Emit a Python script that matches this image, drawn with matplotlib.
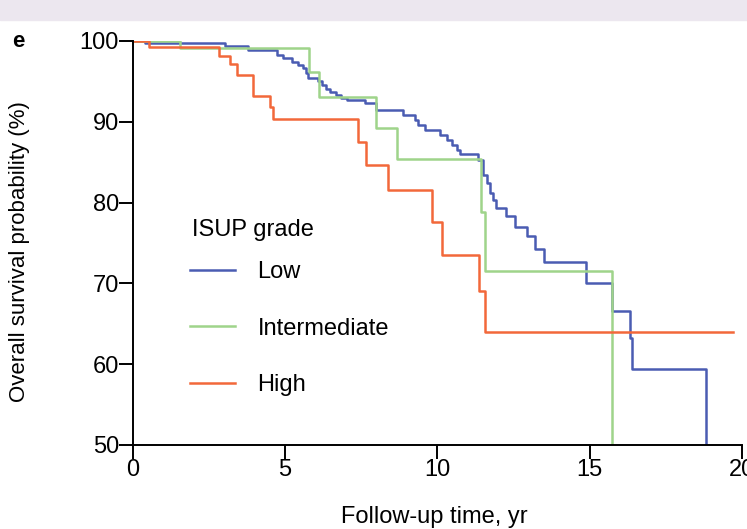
import numpy as np
import matplotlib
matplotlib.use("Agg")
import matplotlib.pyplot as plt
from matplotlib.patches import Rectangle

plt.rcParams['font.family'] = ['Liberation Sans', 'DejaVu Sans']

# Kaplan-Meier steps: (time in years, survival % after the step)
low_t = [0, 0.4, 3.02, 3.79, 4.72, 4.94, 5.21, 5.43, 5.59, 5.70, 5.76, 6.09, 6.20, 6.34,
         6.47, 6.67, 6.85, 7.02, 7.62, 8.0, 8.88, 9.26, 9.37, 9.59, 10.08, 10.3, 10.47,
         10.63, 10.75, 11.34, 11.5, 11.62, 11.72, 11.83, 11.94, 12.27, 12.54, 12.93, 13.2,
         13.5, 14.88, 15.75, 16.32, 16.4, 18.84]
low_s = [100, 99.7, 99.4, 98.9, 98.3, 97.9, 97.4, 97.0, 96.6, 96.0, 95.4, 95.0, 94.6, 94.1,
         93.7, 93.3, 92.9, 92.7, 92.3, 91.5, 90.8, 90.2, 89.6, 89.0, 88.4, 87.7, 87.1,
         86.5, 86.0, 85.3, 83.4, 82.4, 81.2, 80.3, 79.3, 78.3, 77.0, 75.8, 74.3,
         72.7, 70.0, 66.6, 63.2, 59.4, 0]

mid_t = [0, 1.54, 5.79, 6.11, 8.0, 8.66, 11.42, 11.56, 15.75]
mid_s = [100, 99.1, 96.2, 93.1, 89.2, 85.4, 78.8, 71.5, 0]

high_t = [0, 0.53, 2.82, 3.19, 3.41, 3.93, 4.50, 4.61, 7.40, 7.65, 8.38, 9.81, 10.16,
          11.37, 11.58, 19.70]
high_s = [100, 99.2, 98.1, 97.1, 95.8, 93.2, 91.8, 90.4, 87.5, 84.7, 81.6, 77.6, 73.5,
          69.0, 64.0, 64.0]

groups = ["Low", "Intermediate", "High"]
colors = ["#4a5cb2", "#9fd48a", "#f2683a"]

fig = plt.figure(figsize=(7.47, 5.29), dpi=100)
fig.patches.append(Rectangle((0, 0.962), 1, 0.038, transform=fig.transFigure,
                             color="#ece7ef", zorder=0))
ax = fig.add_axes([0.178, 0.159, 0.815, 0.7635])

for t, s, name, c in zip([low_t, mid_t, high_t], [low_s, mid_s, high_s], groups, colors):
    ax.step(t, s, where="post", color=c, lw=1.8, label=name)

ax.set_xlim(0, 20)
ax.set_ylim(50, 100)
ax.set_xticks([0, 5, 10, 15, 20])
ax.set_yticks([50, 60, 70, 80, 90, 100])
ax.spines['top'].set_visible(False)
ax.spines['right'].set_visible(False)
for sp in ['left', 'bottom']:
    ax.spines[sp].set_linewidth(1.4)
ax.tick_params(width=1.4, length=10, labelsize=17, pad=0)

fig.text(20 / 747, 1 - 252 / 529, "Overall survival probability (%)", fontsize=16,
         rotation=90, ha="center", va="center")
fig.text(0.581, 0.022, "Follow-up time, yr", fontsize=17, ha="center", va="center")
fig.text(0.024, 0.921, "e", fontsize=16, fontweight="bold", ha="center", va="center")

ax.text(0.097, 0.533, "ISUP grade", fontsize=17, transform=ax.transAxes,
        ha="left", va="center")
ax.legend(loc="center left", bbox_to_anchor=(0.094, 0.288), frameon=False,
          fontsize=17, handlelength=1.9, handletextpad=0.95, labelspacing=1.45,
          borderpad=0, borderaxespad=0)

fig.savefig("out.png", dpi=100)
